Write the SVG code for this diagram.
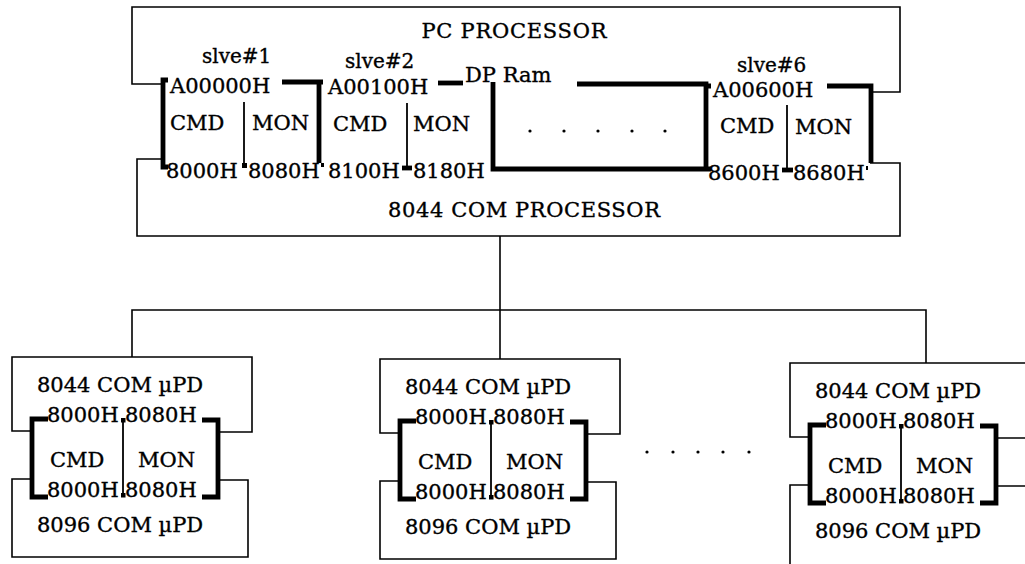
<svg xmlns="http://www.w3.org/2000/svg" width="1025" height="564" viewBox="0 0 1025 564">
<style>
text{font-family:"DejaVu Serif","Liberation Serif",serif;font-size:21px;fill:#000;stroke:#000;stroke-width:0.35}
.s{font-size:20px}
.thin{fill:none;stroke:#000;stroke-width:1.6}
.thick{fill:none;stroke:#000;stroke-width:4.8;stroke-linejoin:miter;stroke-linecap:butt}
.div{fill:none;stroke:#000;stroke-width:1.8}
</style>
<rect width="1025" height="564" fill="#fff"/>

<g id="pc-processor">
<path class="thin" d="M163 84 H132 V7 H900 V92 H871"/>
<text x="514" y="38" text-anchor="middle" textLength="185">PC PROCESSOR</text>
</g>

<g id="com-processor">
<path class="thin" d="M163 159 H137 V236 H900 V163 H870"/>
<text x="524" y="217" text-anchor="middle" textLength="272">8044 COM PROCESSOR</text>
</g>

<g id="slave1">
<path class="thick" d="M168 80 H163 V167 H168"/>
<path class="thick" d="M282 82 H323 M319 81 V163"/>
<path class="div" d="M244 102 V166"/>
<rect x="242" y="163" width="5" height="5"/>
<text class="s" x="202" y="63">slve#1</text>
<text x="170" y="93">A00000H</text>
<text x="170" y="130">CMD</text>
<text x="252" y="130">MON</text>
<text x="166" y="178">8000H</text>
<text x="248" y="178">8080H</text>
</g>

<g id="slave2">
<path class="thick" d="M438 83 H463"/>
<rect x="321" y="163" width="3" height="4"/>
<path class="div" d="M407 103 V167"/>
<path class="thick" d="M402 168 H412"/>
<text class="s" x="345" y="68">slve#2</text>
<text x="328" y="94">A00100H</text>
<text x="333" y="131">CMD</text>
<text x="413" y="131">MON</text>
<text x="328" y="178">8100H</text>
<text x="413" y="178">8180H</text>
</g>

<g id="dp-ram">
<path class="thick" d="M577 84 H706 V170 M706 169 H493 V82"/>
<text x="465" y="82">DP Ram</text>
<circle cx="530" cy="131" r="1.6"/>
<circle cx="564" cy="131" r="1.6"/>
<circle cx="598" cy="131" r="1.6"/>
<circle cx="632" cy="131" r="1.6"/>
<circle cx="665" cy="131" r="1.6"/>
</g>

<g id="slave6">
<path class="thick" d="M706 86 H711 M706 169 H711"/>
<path class="thick" d="M827 86 H871 V163"/>
<rect x="866" y="166" width="2" height="4"/>
<path class="div" d="M787 105 V169"/>
<path class="thick" d="M782 170 H793"/>
<text class="s" x="737" y="72">slve#6</text>
<text x="713" y="97">A00600H</text>
<text x="720" y="133">CMD</text>
<text x="795" y="134">MON</text>
<text x="708" y="180">8600H</text>
<text x="793" y="180">8680H</text>
</g>

<g id="connectors">
<path class="thin" d="M500 236 V359"/>
<path class="thin" d="M132 357 V310 H926 V363"/>
</g>

<g id="upd1">
<path class="thin" d="M32 431 H12 V357 H252 V432 H218"/>
<path class="thin" d="M32 479 H12 V557 H248 V480 H218"/>
<path class="thick" d="M48 419 H32 V497 H48"/>
<path class="thick" d="M202 420 H218 V497 H202"/>
<path class="div" d="M123 420 V496"/>
<rect x="121" y="418" width="4.5" height="4.5"/>
<rect x="121" y="493" width="4.5" height="4.5"/>
<text x="37" y="392">8044 COM µPD</text>
<text x="47" y="422">8000H</text>
<text x="125" y="422">8080H</text>
<text x="50" y="467">CMD</text>
<text x="138" y="467">MON</text>
<text x="47" y="497">8000H</text>
<text x="125" y="497">8080H</text>
<text x="37" y="532">8096 COM µPD</text>
</g>

<g id="upd2" transform="translate(368,2)">
<path class="thin" d="M32 431 H12 V357 H252 V432 H218"/>
<path class="thin" d="M32 479 H12 V557 H248 V480 H218"/>
<path class="thick" d="M48 419 H32 V497 H48"/>
<path class="thick" d="M202 420 H218 V497 H202"/>
<path class="div" d="M123 420 V496"/>
<rect x="121" y="418" width="4.5" height="4.5"/>
<rect x="121" y="493" width="4.5" height="4.5"/>
<text x="37" y="392">8044 COM µPD</text>
<text x="47" y="422">8000H</text>
<text x="125" y="422">8080H</text>
<text x="50" y="467">CMD</text>
<text x="138" y="467">MON</text>
<text x="47" y="497">8000H</text>
<text x="125" y="497">8080H</text>
<text x="37" y="532">8096 COM µPD</text>
</g>

<g id="dots-between">
<circle cx="647" cy="452" r="1.6"/>
<circle cx="673" cy="452" r="1.6"/>
<circle cx="698" cy="452" r="1.6"/>
<circle cx="723" cy="452" r="1.6"/>
<circle cx="749" cy="452" r="1.6"/>
</g>

<g id="upd3" transform="translate(778,6)">
<path class="thin" d="M32 431 H12 V357 H260"/>
<path class="thin" d="M218 432 H260"/>
<path class="thin" d="M32 479 H12 V570"/>
<path class="thin" d="M218 480 H260"/>
<path class="thick" d="M48 419 H32 V497 H48"/>
<path class="thick" d="M202 420 H218 V497 H202"/>
<path class="div" d="M123 420 V496"/>
<rect x="121" y="418" width="4.5" height="4.5"/>
<rect x="121" y="493" width="4.5" height="4.5"/>
<text x="37" y="392">8044 COM µPD</text>
<text x="47" y="422">8000H</text>
<text x="125" y="422">8080H</text>
<text x="50" y="467">CMD</text>
<text x="138" y="467">MON</text>
<text x="47" y="497">8000H</text>
<text x="125" y="497">8080H</text>
<text x="37" y="532">8096 COM µPD</text>
</g>
</svg>
